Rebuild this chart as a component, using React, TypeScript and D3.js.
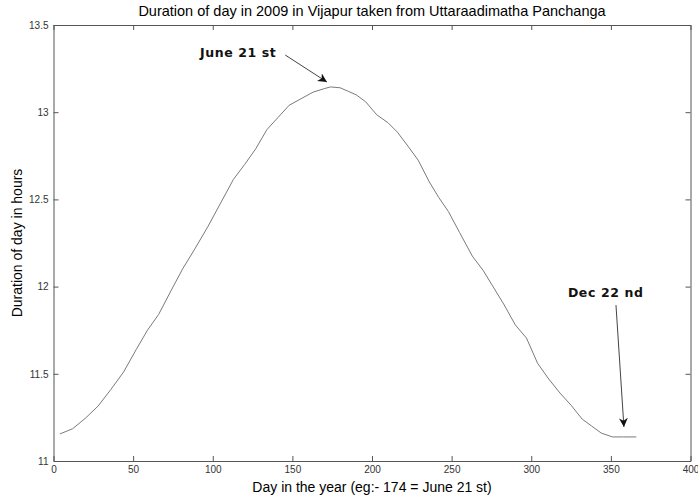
import React, { useRef, useEffect } from "react";
import * as d3 from "d3";

// day of year and duration of day (hours)
const days = [4, 12, 20, 28, 36, 44, 52, 59, 66, 74, 81, 89, 97, 105, 113, 120, 127, 134, 141, 148, 156, 163, 170, 174, 180, 185, 190, 196, 203, 210, 216, 223, 229, 236, 242, 248, 255, 263, 270, 276, 283, 290, 297, 304, 311, 318, 325, 332, 338, 344, 351, 358, 366];
const hours = [11.155, 11.185, 11.245, 11.315, 11.41, 11.51, 11.64, 11.75, 11.84, 11.98, 12.1, 12.22, 12.345, 12.48, 12.615, 12.7, 12.79, 12.9, 12.97, 13.04, 13.08, 13.115, 13.135, 13.145, 13.14, 13.12, 13.1, 13.06, 12.985, 12.94, 12.885, 12.8, 12.725, 12.6, 12.51, 12.43, 12.31, 12.175, 12.09, 12.0, 11.895, 11.78, 11.705, 11.56, 11.47, 11.39, 11.32, 11.24, 11.2, 11.16, 11.138, 11.138, 11.138];

const xTicks = [0, 50, 100, 150, 200, 250, 300, 350, 400];
const yTicks = [11, 11.5, 12, 12.5, 13, 13.5];

// annotations: label, text start (day, hours), arrow start, arrow tip
const noteLabels = ["June 21 st", "Dec 22 nd"];
const noteText = [[92, 13.317], [323, 11.94]];
const noteFrom = [[145.5, 13.328], [353.2, 11.894]];
const noteTo = [[171.7, 13.173], [358.2, 11.195]];

const W = 698;
const H = 502;
const margin = { left: 53.5, right: 7.5, top: 25, bottom: 41 };

export default function App() {
  const svgRef = useRef<SVGSVGElement>(null);

  useEffect(() => {
    const svg = d3.select(svgRef.current);
    svg.selectAll("*").remove();

    const x = d3.scaleLinear().domain([0, 400]).range([margin.left, W - margin.right]);
    const y = d3.scaleLinear().domain([11, 13.5]).range([H - margin.bottom, margin.top]);
    const font = "'Liberation Sans', Arial, sans-serif";
    const axisColor = "#555";

    svg.append("defs").append("marker")
      .attr("id", "head")
      .attr("viewBox", "0 0 10 10")
      .attr("refX", 10).attr("refY", 5)
      .attr("markerWidth", 9).attr("markerHeight", 9)
      .attr("markerUnits", "userSpaceOnUse")
      .attr("orient", "auto")
      .append("path").attr("d", "M0,0 L10,5 L0,10 L3,5 Z").attr("fill", "#111");

    const styleAxis = (g: any) => {
      g.select(".domain").attr("stroke", axisColor);
      g.selectAll(".tick line").attr("stroke", axisColor);
      g.selectAll(".tick text")
        .attr("fill", "#333")
        .style("font-family", font)
        .style("font-size", "10px");
    };
    const noLabel = () => "";

    svg.append("g").attr("transform", `translate(0,${y(11)})`)
      .call(d3.axisBottom(x).tickValues(xTicks).tickSizeInner(-5).tickSizeOuter(0).tickPadding(5).tickFormat(d3.format("d")))
      .call(styleAxis);
    svg.append("g").attr("transform", `translate(0,${y(13.5)})`)
      .call(d3.axisTop(x).tickValues(xTicks).tickSizeInner(-5).tickSizeOuter(0).tickFormat(noLabel))
      .call(styleAxis);
    svg.append("g").attr("transform", `translate(${x(0)},0)`)
      .call(d3.axisLeft(y).tickValues(yTicks).tickSizeInner(-5).tickSizeOuter(0).tickPadding(5).tickFormat(d3.format("")))
      .call(styleAxis);
    svg.append("g").attr("transform", `translate(${x(400)},0)`)
      .call(d3.axisRight(y).tickValues(yTicks).tickSizeInner(-5).tickSizeOuter(0).tickFormat(noLabel))
      .call(styleAxis);

    const line = d3.line<number>().x((d, i) => x(days[i])).y(d => y(d));
    svg.append("path")
      .attr("d", line(hours))
      .attr("fill", "none")
      .attr("stroke", "#7a7a7a")
      .attr("stroke-width", 1);

    noteLabels.forEach((label, i) => {
      svg.append("text")
        .attr("x", x(noteText[i][0])).attr("y", y(noteText[i][1]))
        .attr("font-family", "'DejaVu Sans', sans-serif")
        .attr("font-weight", "bold")
        .attr("font-size", 12.5)
        .attr("letter-spacing", 0.6)
        .attr("fill", "#111")
        .text(label);
      svg.append("line")
        .attr("x1", x(noteFrom[i][0])).attr("y1", y(noteFrom[i][1]))
        .attr("x2", x(noteTo[i][0])).attr("y2", y(noteTo[i][1]))
        .attr("stroke", "#444")
        .attr("stroke-width", 1)
        .attr("marker-end", "url(#head)");
    });

    svg.append("text")
      .attr("x", (x(0) + x(400)) / 2).attr("y", 16)
      .attr("text-anchor", "middle")
      .attr("font-family", font).attr("font-size", 14.5)
      .text("Duration of day in 2009 in Vijapur taken from Uttaraadimatha Panchanga");
    svg.append("text")
      .attr("x", (x(0) + x(400)) / 2).attr("y", 492)
      .attr("text-anchor", "middle")
      .attr("font-family", font).attr("font-size", 14)
      .text("Day in the year (eg:- 174 = June 21 st)");
    svg.append("text")
      .attr("transform", `translate(22,${(y(11) + y(13.5)) / 2}) rotate(-90)`)
      .attr("text-anchor", "middle")
      .attr("font-family", font).attr("font-size", 14)
      .text("Duration of day in hours");
  }, []);

  return (
    <svg ref={svgRef} width={W} height={H}
      style={{ position: "absolute", left: 0, top: 0, background: "#fff" }} />
  );
}
